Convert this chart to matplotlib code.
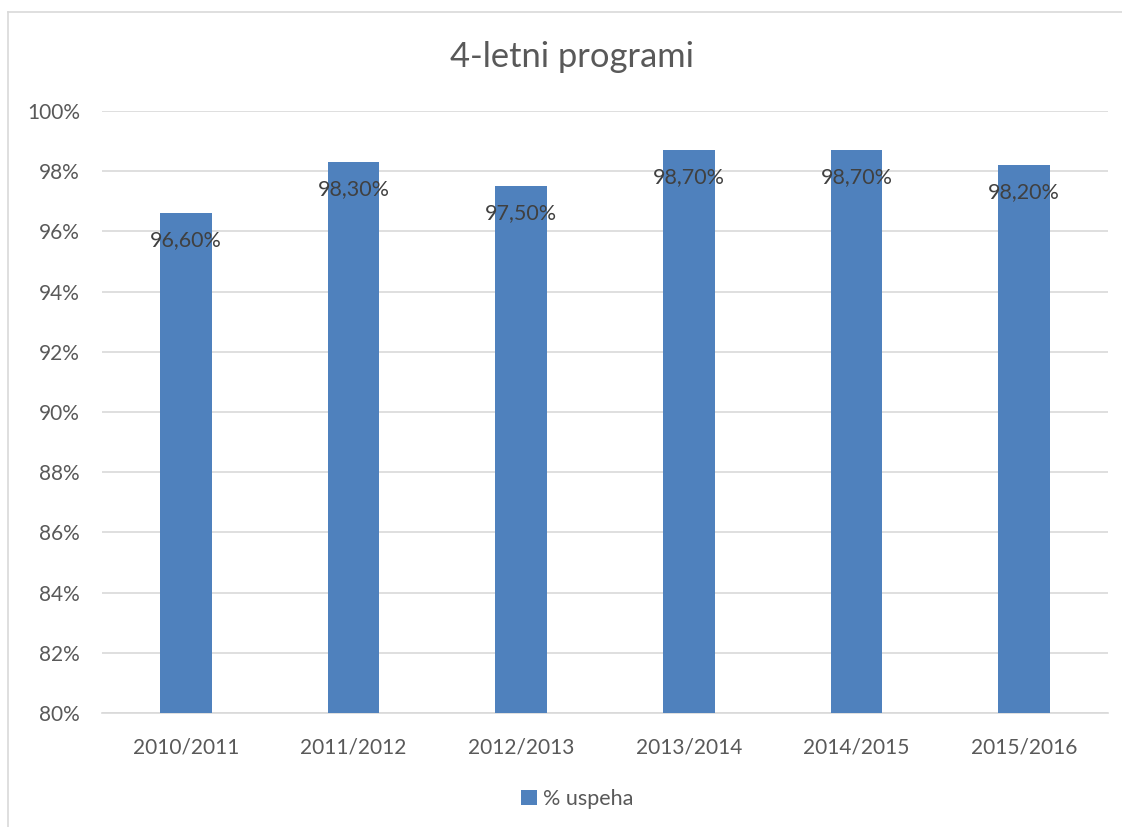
import matplotlib
matplotlib.use("Agg")
import matplotlib.pyplot as plt
from matplotlib.lines import Line2D
from matplotlib.ticker import FuncFormatter

categories = ["2010/2011", "2011/2012", "2012/2013", "2013/2014", "2014/2015", "2015/2016"]
values = [96.6, 98.3, 97.5, 98.7, 98.7, 98.2]
labels = ["96,60%", "98,30%", "97,50%", "98,70%", "98,70%", "98,20%"]
yticks = [80, 82, 84, 86, 88, 90, 92, 94, 96, 98, 100]

plt.rcParams['font.family'] = ['Lato', 'DejaVu Sans']

fig = plt.figure(figsize=(11.22, 8.27), dpi=100)
# chart-area border (only top and left edges are visible in the crop)
fig.add_artist(Line2D([8/1122, 1], [1 - 12/827, 1 - 12/827], transform=fig.transFigure,
                      color="#D9D9D9", linewidth=1.2))
fig.add_artist(Line2D([8/1122, 8/1122], [0, 1 - 12/827], transform=fig.transFigure,
                      color="#D9D9D9", linewidth=1.2))
ax = fig.add_axes([102/1122, 1 - 713/827, (1108 - 102)/1122, (713 - 111)/827])

x = range(len(categories))
bars = ax.bar(x, values, width=0.31, color="#4F81BD", zorder=3, label="% uspeha")
ax.set_ylim(80, 100)
ax.set_xlim(-0.5, len(categories) - 0.5)
ax.set_yticks(yticks)
ax.yaxis.set_major_formatter(FuncFormatter(lambda v, p: f"{int(v)}%"))
ax.set_xticks(list(x))
ax.set_xticklabels(categories)
ax.grid(axis="y", color="#D9D9D9", linewidth=1.2, zorder=0)
for s in ["top", "right", "left"]:
    ax.spines[s].set_visible(False)
ax.spines["bottom"].set_color("#D9D9D9")
ax.spines["bottom"].set_linewidth(1.2)
ax.tick_params(axis="both", length=0, labelsize=15, colors="#595959")
ax.tick_params(axis="x", pad=18)
ax.tick_params(axis="y", pad=16)

for xi, v, lab in zip(x, values, labels):
    ax.annotate(lab, (xi, v), xytext=(0, -12), textcoords="offset points",
                ha="center", va="top", fontsize=15.5, color="#404040", zorder=4)

fig.text(572/1122, 1 - 57/827, "4-letni programi", ha="center", va="center",
         fontsize=24.8, color="#595959")

leg = fig.legend(handles=[bars], labels=["% uspeha"], loc="center",
                 bbox_to_anchor=(577/1122, 1 - 799/827), frameon=False, fontsize=15.5,
                 handlelength=0.75, handleheight=0.75, handletextpad=0.3)
for t in leg.get_texts():
    t.set_color("#595959")

fig.savefig("out.png", dpi=100)
